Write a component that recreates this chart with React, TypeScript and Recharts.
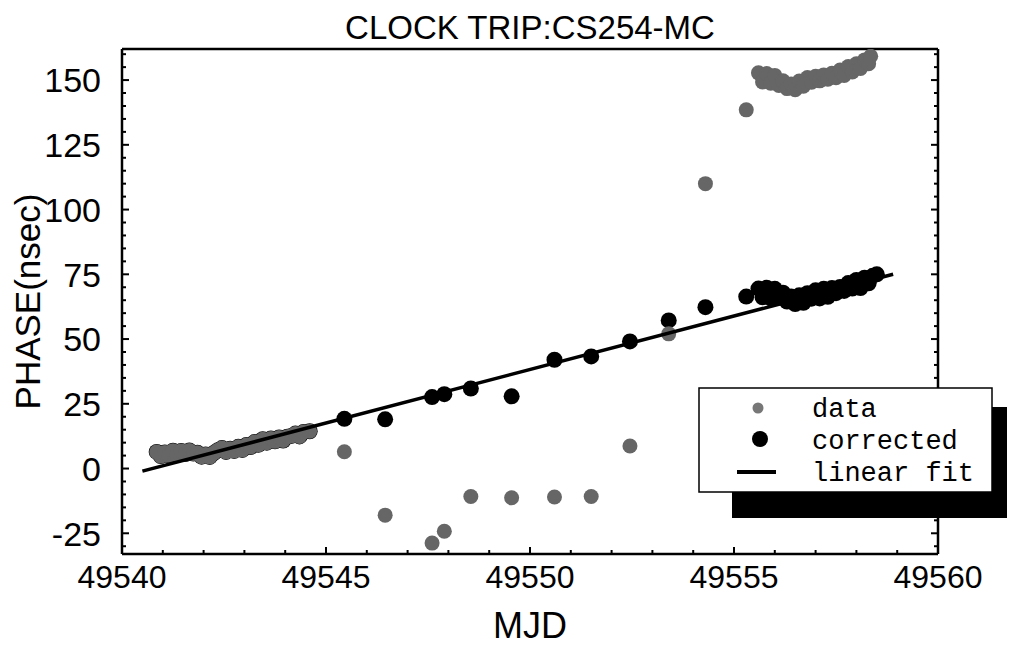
import React from "react";
import { ScatterChart, Scatter, XAxis, YAxis, Legend, Label } from "recharts";

const SANS = "'Liberation Sans', Arial, Helvetica, sans-serif";
const MONO = "'Liberation Mono', 'Courier New', monospace";

// tick positions (labels drawn on the multiples of 5 / 25)
const xTicks = [
  49540, 49541, 49542, 49543, 49544, 49545, 49546, 49547, 49548, 49549, 49550,
  49551, 49552, 49553, 49554, 49555, 49556, 49557, 49558, 49559, 49560,
];
const yTicks = [
  -30, -25, -20, -15, -10, -5, 0, 5, 10, 15, 20, 25, 30, 35, 40, 45, 50, 55, 60,
  65, 70, 75, 80, 85, 90, 95, 100, 105, 110, 115, 120, 125, 130, 135, 140, 145,
  150, 155, 160,
];

// first stretch: raw data and corrected values are the same
const mjdEarly = [
  49540.85, 49540.95, 49541.05, 49541.15, 49541.25, 49541.35, 49541.45,
  49541.55, 49541.65, 49541.75, 49541.85, 49541.95, 49542.05, 49542.15,
  49542.25, 49542.35, 49542.45, 49542.55, 49542.65, 49542.75, 49542.85,
  49542.95, 49543.05, 49543.15, 49543.25, 49543.35, 49543.45, 49543.55,
  49543.65, 49543.75, 49543.85, 49543.95, 49544.05, 49544.15, 49544.25,
  49544.35, 49544.45, 49544.6,
];
const phaseEarly = [
  6.4, 4.8, 6.2, 5.1, 6.9, 5.3, 6.8, 5.6, 7.0, 5.8, 6.1, 4.6, 5.4, 4.5, 6.0,
  7.1, 7.9, 6.4, 7.6, 6.8, 8.4, 7.2, 9.1, 8.3, 10.2, 9.2, 11.3, 10.0, 11.6,
  10.5, 12.0, 10.8, 12.3, 12.6, 13.5, 12.4, 14.1, 14.4,
];

// sparse points in the middle
const mjdMid = [
  49545.45, 49546.45, 49547.6, 49547.9, 49548.55, 49549.55, 49550.6, 49551.5,
  49552.45, 49553.4, 49554.3, 49555.3,
];
const dataMid = [6.5, -18, -28.8, -24.2, -10.8, -11.3, -11, -10.8, 8.7, 52, 110, 138.5];
const corrMid = [19.2, 19, 27.6, 28.7, 30.9, 27.9, 42, 43.3, 49.1, 57.2, 62.3, 66.4];

// last stretch: raw data jumped, corrected follows the fit
const mjdLateData = [
  49555.6, 49555.7, 49555.8, 49555.9, 49556.0, 49556.1, 49556.2, 49556.3,
  49556.4, 49556.5, 49556.6, 49556.7, 49556.8, 49556.9, 49557.0, 49557.1,
  49557.2, 49557.3, 49557.4, 49557.5, 49557.6, 49557.7, 49557.8, 49557.9,
  49558.0, 49558.1, 49558.2, 49558.3, 49558.35,
];
const dataLate = [
  152.8, 149.3, 152.5, 148.8, 151.8, 147.9, 149.7, 146.7, 148.5, 146.3, 149.6,
  147.6, 151.0, 149.2, 151.5, 149.7, 152.0, 150.3, 152.6, 150.9, 153.9, 151.8,
  155.2, 153.1, 156.3, 154.5, 157.8, 156.3, 159.2,
];
const mjdLateCorr = [
  49555.6, 49555.7, 49555.8, 49555.9, 49556.0, 49556.1, 49556.2, 49556.3,
  49556.4, 49556.5, 49556.6, 49556.7, 49556.8, 49556.9, 49557.0, 49557.1,
  49557.2, 49557.3, 49557.4, 49557.5, 49557.6, 49557.7, 49557.8, 49557.9,
  49558.0, 49558.1, 49558.2, 49558.3, 49558.4, 49558.5,
];
const corrLate = [
  69.5, 66.1, 69.8, 65.7, 69.4, 66.0, 67.9, 64.5, 66.4, 63.5, 66.9, 64.0, 67.7,
  65.6, 68.8, 65.7, 69.4, 66.3, 69.7, 67.7, 70.1, 68.6, 71.6, 69.5, 72.8, 69.7,
  73.7, 71.5, 74.4, 75.0,
];

// linear fit end points
const fitMjd = [49540.5, 49558.9];
const fitPhase = [-1, 75];

const toPts = (xs: number[], ys: number[]) => xs.map((m, i) => ({ mjd: m, phase: ys[i] }));

const dataPoints = [
  ...toPts(mjdEarly, phaseEarly),
  ...toPts(mjdMid, dataMid),
  ...toPts(mjdLateData, dataLate),
];
const correctedPoints = [
  ...toPts(mjdEarly, phaseEarly),
  ...toPts(mjdMid, corrMid),
  ...toPts(mjdLateCorr, corrLate),
];
const fitPoints = toPts(fitMjd, fitPhase);

const BottomTick = ({ x, y, payload }: any) => {
  const major = payload.value % 5 === 0;
  return (
    <g>
      <line x1={x} y1={y} x2={x} y2={y - (major ? 7 : 4)} stroke="#000" strokeWidth={2} />
      {major && (
        <text x={x} y={y + 11} dy="0.71em" textAnchor="middle" fontSize={32} fontFamily={SANS} fill="#000">
          {payload.value}
        </text>
      )}
    </g>
  );
};

const TopTick = ({ x, y, payload }: any) => {
  const major = payload.value % 5 === 0;
  return <line x1={x} y1={y} x2={x} y2={y + (major ? 7 : 4)} stroke="#000" strokeWidth={2} />;
};

const LeftTick = ({ x, y, payload }: any) => {
  const major = payload.value % 25 === 0;
  return (
    <g>
      <line x1={x} y1={y} x2={x + (major ? 7 : 4)} y2={y} stroke="#000" strokeWidth={2} />
      {major && (
        <text x={x - 21} y={y} dy="0.36em" textAnchor="end" fontSize={34} fontFamily={SANS} fill="#000">
          {payload.value}
        </text>
      )}
    </g>
  );
};

const RightTick = ({ x, y, payload }: any) => {
  const major = payload.value % 25 === 0;
  return <line x1={x} y1={y} x2={x - (major ? 7 : 4)} y2={y} stroke="#000" strokeWidth={2} />;
};

const LegendBox = () => (
  <svg width={317} height={132} style={{ display: "block", overflow: "visible" }}>
    <rect x={34} y={21} width={283} height={111} fill="#000" />
    <rect x={1} y={2} width={293} height={104} fill="#fff" stroke="#000" strokeWidth={1.5} />
    <circle cx={60} cy={22} r={5.5} fill="#777" />
    <circle cx={62} cy={53} r={8} fill="#000" />
    <line x1={39} y1={86} x2={78} y2={86} stroke="#000" strokeWidth={4} />
    <g fontFamily={MONO} fontSize={27} fill="#000">
      <text x={114} y={22} dy="0.35em">data</text>
      <text x={114} y={54} dy="0.35em">corrected</text>
      <text x={114} y={86} dy="0.35em">linear fit</text>
    </g>
  </svg>
);

export default function App() {
  return (
    <div style={{ width: 1007, height: 638, position: "relative" }}>
      <ScatterChart width={1007} height={638} margin={{ top: 40, right: 76, bottom: 0, left: 0 }}>
        <XAxis
          xAxisId="x"
          dataKey="mjd"
          type="number"
          domain={[49540, 49560]}
          ticks={xTicks}
          interval={0}
          allowDataOverflow
          height={92}
          tickSize={0}
          tickMargin={0}
          tickLine={false}
          tick={(p: any) => <BottomTick {...p} />}
          axisLine={{ stroke: "#000", strokeWidth: 2.5 }}
        >
          <Label value="MJD" position="insideBottom" offset={8} fontSize={36} fontFamily={SANS} fill="#000" />
        </XAxis>
        <XAxis
          xAxisId="top"
          orientation="top"
          type="number"
          domain={[49540, 49560]}
          ticks={xTicks}
          interval={0}
          allowDataOverflow
          height={1}
          tickSize={0}
          tickMargin={0}
          tickLine={false}
          tick={(p: any) => <TopTick {...p} />}
          axisLine={{ stroke: "#000", strokeWidth: 2.5 }}
        >
          <Label value="CLOCK TRIP:CS254-MC" position="top" offset={9} fontSize={33} fontFamily={SANS} fill="#000" />
        </XAxis>
        <YAxis
          yAxisId="y"
          dataKey="phase"
          type="number"
          domain={[-33, 162]}
          ticks={yTicks}
          interval={0}
          allowDataOverflow
          width={114}
          tickSize={0}
          tickMargin={0}
          tickLine={false}
          tick={(p: any) => <LeftTick {...p} />}
          axisLine={{ stroke: "#000", strokeWidth: 2.5 }}
        >
          <Label
            value="PHASE(nsec)"
            angle={-90}
            position="insideLeft"
            offset={20}
            fontSize={35}
            fontFamily={SANS}
            fill="#000"
            style={{ textAnchor: "middle" }}
          />
        </YAxis>
        <YAxis
          yAxisId="right"
          orientation="right"
          type="number"
          domain={[-33, 162]}
          ticks={yTicks}
          interval={0}
          allowDataOverflow
          width={1}
          tickSize={0}
          tickMargin={0}
          tickLine={false}
          tick={(p: any) => <RightTick {...p} />}
          axisLine={{ stroke: "#000", strokeWidth: 2.5 }}
        />
        <Scatter
          name="corrected"
          data={correctedPoints}
          xAxisId="x"
          yAxisId="y"
          fill="#000"
          isAnimationActive={false}
          shape={(p: any) => <circle cx={p.cx} cy={p.cy} r={8} fill="#000" />}
        />
        <Scatter
          name="data"
          data={dataPoints}
          xAxisId="x"
          yAxisId="y"
          fill="#666"
          isAnimationActive={false}
          shape={(p: any) => <circle cx={p.cx} cy={p.cy} r={7.5} fill="#666" />}
        />
        <Scatter
          name="linear fit"
          data={fitPoints}
          xAxisId="x"
          yAxisId="y"
          line={{ stroke: "#000", strokeWidth: 3.5 }}
          lineType="joint"
          isAnimationActive={false}
          shape={() => <g />}
        />
        <Legend
          layout="horizontal"
          verticalAlign="middle"
          align="center"
          content={() => <LegendBox />}
          wrapperStyle={{ position: "absolute", left: 690, top: 378, width: 317, height: 132 }}
        />
      </ScatterChart>
    </div>
  );
}
